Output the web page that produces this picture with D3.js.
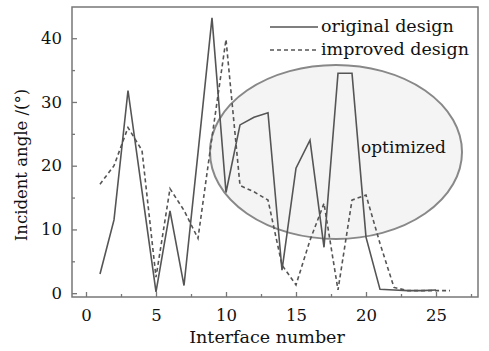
<!DOCTYPE html>
<html><head><meta charset="utf-8">
<script src="https://cdn.jsdelivr.net/npm/d3@7"></script>
<style>body{margin:0;background:#fff}svg{display:block}text{font-family:"DejaVu Serif",serif;fill:#111}</style>
</head><body>
<script>
const originalX = [1,2,3,4,5,6,7,8,9,10,11,12,13,14,15,16,17,18,19,20,21,22,23,24,25];
const originalY = [3.0,11.5,31.8,16,0.2,12.9,1.2,22,43.2,15.8,26.4,27.6,28.3,3.6,19.6,24,7.2,34.5,34.5,8.8,0.6,0.5,0.4,0.4,0.5];
const improvedX = [1,2,3,4,5,6,7,8,9,10,11,12,13,14,15,16,17,18,19,20,21,22,23,24,25,26];
const improvedY = [17.1,20,26,22.4,2.5,16.4,13,8.6,24.5,39.8,16.9,15.9,14.6,4.4,1.3,8.3,14.1,0.5,14.6,15.4,7.8,0.9,0.4,0.4,0.4,0.4];
const xTicks = [0,5,10,15,20,25];
const yTicks = [0,10,20,30,40];
const seriesNames = ["original design","improved design"];
const noteText = "optimized";

const W=489,H=351;
const svg=d3.select("body").append("svg").attr("width",W).attr("height",H);
const L=72,R=478,T=7,B=297;
const x=d3.scaleLinear().domain([-1,28]).range([L,R]);
const y=d3.scaleLinear().domain([-0.6,44.9]).range([B,T]);

// ellipse
svg.append("ellipse").attr("cx",336).attr("cy",152).attr("rx",126).attr("ry",87)
  .attr("fill","#f4f4f4").attr("stroke","#888").attr("stroke-width",2);

// axes frame
svg.append("rect").attr("x",L).attr("y",T).attr("width",R-L).attr("height",B-T)
  .attr("fill","none").attr("stroke","#777").attr("stroke-width",1.5);

const gx=svg.append("g").attr("transform",`translate(0,${B})`)
  .call(d3.axisBottom(x).tickValues(xTicks).tickSize(-5).tickPadding(12).tickFormat(d3.format("d")));
const gxm=svg.append("g").attr("transform",`translate(0,${B})`)
  .call(d3.axisBottom(x).tickValues(d3.range(-0,28,2.5).filter(v=>v%5!==0)).tickSize(-3).tickFormat(""));
const gy=svg.append("g").attr("transform",`translate(${L},0)`)
  .call(d3.axisLeft(y).tickValues(yTicks).tickSize(-5).tickPadding(10).tickFormat(d3.format("d")));
const gym=svg.append("g").attr("transform",`translate(${L},0)`)
  .call(d3.axisLeft(y).tickValues([5,15,25,35]).tickSize(-3).tickFormat(""));
[gx,gxm,gy,gym].forEach(g=>{g.select(".domain").remove();g.selectAll("line").attr("stroke","#777").attr("stroke-width",1.3);
  g.selectAll("text").attr("font-size",16.5).attr("font-family","DejaVu Serif").attr("fill","#111");});

const line=d3.line().x(d=>x(d[0])).y(d=>y(d[1]));
svg.append("path").datum(originalX.map((v,i)=>[v,originalY[i]])).attr("d",line)
  .attr("fill","none").attr("stroke","#555").attr("stroke-width",1.6);
svg.append("path").datum(improvedX.map((v,i)=>[v,improvedY[i]])).attr("d",line)
  .attr("fill","none").attr("stroke","#555").attr("stroke-width",1.6).attr("stroke-dasharray","4,3");

// legend
const lg=svg.append("g");
[0,1].forEach(i=>{
  const yy=27+i*23;
  lg.append("line").attr("x1",270).attr("x2",318).attr("y1",yy).attr("y2",yy)
    .attr("stroke","#555").attr("stroke-width",1.6).attr("stroke-dasharray",i?"4,3":null);
  lg.append("text").attr("x",321).attr("y",yy+5).attr("font-size",17.5).text(seriesNames[i]);
});
svg.append("text").attr("x",361).attr("y",153).attr("font-size",17).text(noteText);

svg.append("text").attr("x",267).attr("y",343).attr("text-anchor","middle").attr("font-size",17.5).text("Interface number");
svg.append("text").attr("transform","translate(27,165) rotate(-90)").attr("text-anchor","middle").attr("font-size",16.5).text("Incident angle /(°)");
</script>
</body></html>
